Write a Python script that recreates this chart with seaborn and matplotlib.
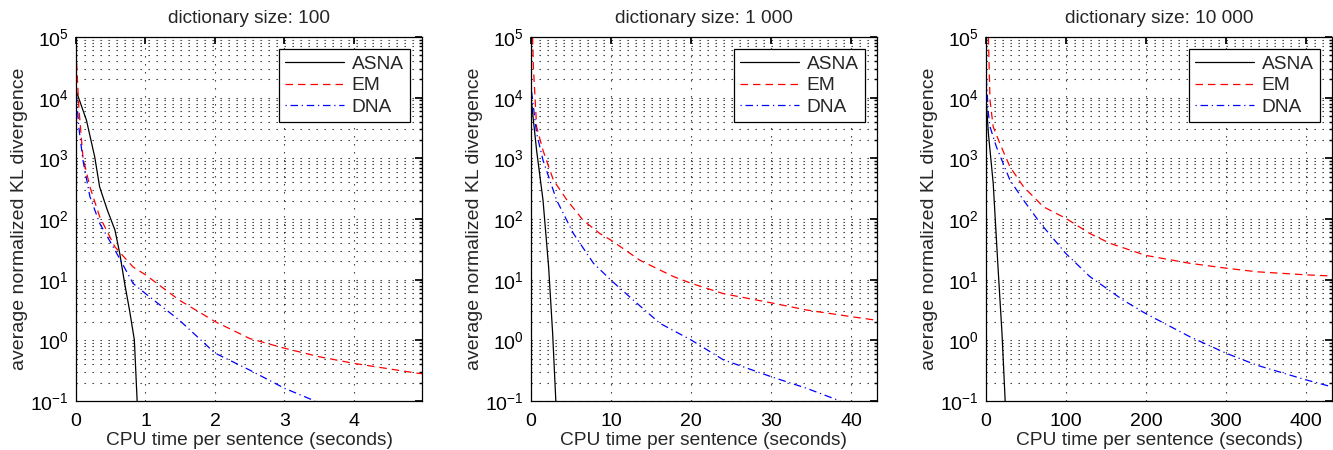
import numpy as np
import pandas as pd
import matplotlib
matplotlib.use("Agg")
import matplotlib.pyplot as plt
import seaborn as sns
from matplotlib.ticker import FixedLocator, MultipleLocator, NullFormatter, NullLocator, LogFormatterMathtext

sns.set_theme(style="white")
plt.rcParams['font.family'] = ['Liberation Sans', 'DejaVu Sans']
plt.rcParams['mathtext.fontset'] = 'custom'
plt.rcParams['mathtext.rm'] = 'Liberation Sans'
plt.rcParams['mathtext.it'] = 'Liberation Sans:italic'

titles = ["dictionary size: 100", "dictionary size: 1 000", "dictionary size: 10 000"]
xlims = [4.98, 43.2, 433]
x_major = [1, 10, 100]
series_names = ["ASNA", "EM", "DNA"]
y_decades = [-1, 0, 1, 2, 3, 4, 5]

# panel 1 (log10 values)
asna1_x = [0, 0.15, 0.27, 0.34, 0.45, 0.56, 0.63, 0.70, 0.77, 0.84, 0.88]
asna1_y = [4.12, 3.63, 3.02, 2.53, 2.15, 1.82, 1.43, 0.94, 0.50, 0.005, -1.0]
em1_x = [0, 0.04, 0.10, 0.20, 0.34, 0.56, 0.82, 1.0, 1.49, 2.0, 2.5, 3.0, 3.5, 4.0, 4.9, 4.98]
em1_y = [4.78, 3.85, 3.02, 2.53, 2.04, 1.54, 1.21, 1.08, 0.66, 0.31, 0.03, -0.13, -0.27, -0.38, -0.54, -0.55]
dna1_x = [0, 0.04, 0.10, 0.20, 0.34, 0.56, 0.82, 1.0, 1.49, 2.0, 2.5, 3.0, 3.44]
dna1_y = [4.12, 3.52, 2.97, 2.37, 1.93, 1.49, 0.94, 0.77, 0.33, -0.21, -0.49, -0.79, -1.0]

# panel 2
asna2_x = [0, 0.7, 1.5, 2.2, 2.7, 3.1]
asna2_y = [4.0, 3.13, 2.31, 1.21, 0.12, -1.0]
em2_x = [0.2, 0.3, 0.7, 1.5, 2.8, 4.5, 6.5, 8.6, 10, 13.6, 17.8, 20, 24, 30.3, 34.4, 40, 43.2]
em2_y = [5.0, 4.5, 3.52, 3.13, 2.64, 2.31, 1.98, 1.76, 1.65, 1.32, 1.05, 0.94, 0.77, 0.61, 0.50, 0.39, 0.33]
dna2_x = [0, 0.7, 1.5, 3.2, 5.3, 7.8, 10, 12.8, 16.1, 20, 24, 30, 34.4, 38.6]
dna2_y = [4.18, 3.41, 2.97, 2.31, 1.76, 1.27, 0.99, 0.66, 0.28, 0.005, -0.32, -0.60, -0.79, -1.0]

# panel 3
asna3_x = [0, 3, 9, 15, 20, 24]
asna3_y = [4.0, 3.41, 2.59, 1.21, 0.12, -1.0]
em3_x = [3, 5, 9, 17.5, 30, 47, 72, 100, 130, 155, 200, 255, 300, 339, 400, 433]
em3_y = [5.0, 3.96, 3.52, 3.24, 2.86, 2.53, 2.20, 2.01, 1.76, 1.60, 1.40, 1.27, 1.19, 1.13, 1.08, 1.06]
dna3_x = [0, 3, 5, 13, 30, 47, 68, 100, 130, 172, 200, 255, 300, 339, 400, 431]
dna3_y = [4.4, 3.74, 3.52, 3.19, 2.64, 2.31, 1.93, 1.43, 1.05, 0.66, 0.44, 0.06, -0.21, -0.41, -0.65, -0.76]

panels = [
    [(asna1_x, asna1_y), (em1_x, em1_y), (dna1_x, dna1_y)],
    [(asna2_x, asna2_y), (em2_x, em2_y), (dna2_x, dna2_y)],
    [(asna3_x, asna3_y), (em3_x, em3_y), (dna3_x, dna3_y)],
]
colors = ["black", "red", "blue"]
styles = ["-", (0, (6, 4)), (0, (1, 3, 6, 3))]

major_y = [10.0 ** d for d in y_decades]
minor_y = [m * 10.0 ** d for d in y_decades[:-1] for m in range(2, 10)]

fig = plt.figure(figsize=(13.33, 4.5), dpi=100)
lefts = [76, 531, 986]
W, H = 1333, 450
for i in range(3):
    ax = fig.add_axes([lefts[i] / W, 1 - 401 / H, 346 / W, 364 / H])
    for j, (xs, ys) in enumerate(panels[i]):
        df = pd.DataFrame({"x": xs, "y": 10 ** np.array(ys)})
        sns.lineplot(data=df, x="x", y="y", ax=ax, color=colors[j], linestyle=styles[j],
                     linewidth=0.9, estimator=None, sort=False, label=series_names[j])
    ax.set_yscale("log")
    ax.set_ylim(1e-1, 1e5)
    ax.set_xlim(0, xlims[i])
    ax.xaxis.set_major_locator(MultipleLocator(x_major[i]))
    ax.xaxis.set_minor_locator(NullLocator())
    ax.yaxis.set_major_locator(FixedLocator(major_y))
    ax.yaxis.set_major_formatter(LogFormatterMathtext())
    ax.yaxis.set_minor_locator(FixedLocator(minor_y))
    ax.yaxis.set_minor_formatter(NullFormatter())
    ax.grid(True, which="both", color="black", linestyle=(0, (1.2, 6)), linewidth=0.8, alpha=0.85)
    for s in ax.spines.values():
        s.set_color("black")
        s.set_linewidth(0.9)
    ax.tick_params(which="both", direction="in", top=True, right=True, colors="black",
                   labelsize=14)
    ax.tick_params(axis="x", which="major", length=5, pad=9)
    ax.tick_params(axis="y", which="major", length=5, pad=5)
    ax.tick_params(which="minor", length=2.5)
    ax.set_title(titles[i], fontsize=13.7, pad=10)
    ax.set_xlabel("CPU time per sentence (seconds)", fontsize=13.8, labelpad=1)
    ax.set_ylabel("average normalized KL divergence", fontsize=14, labelpad=2)
    leg = ax.legend(loc="upper right", fontsize=13.8, frameon=True, fancybox=False,
                    edgecolor="black", framealpha=1, handlelength=3.1, borderpad=0.3,
                    labelspacing=0.22, borderaxespad=0.65, handletextpad=0.4)
    leg.get_frame().set_linewidth(0.9)

fig.savefig("out.png", dpi=100)
